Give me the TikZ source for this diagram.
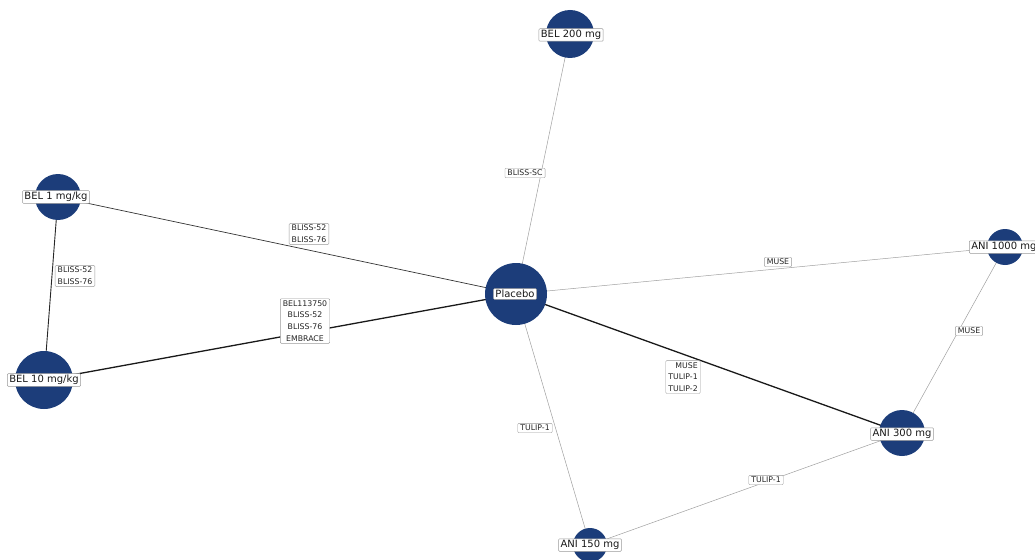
\documentclass[tikz,border=0pt]{standalone}
\usepackage{fontspec}
\setmainfont{DejaVu Sans}
\usetikzlibrary{backgrounds}
\definecolor{navy}{RGB}{28,61,122}
\tikzset{
  trt/.style={circle,fill=navy,draw=none,inner sep=0pt,minimum size=#1},
  nlab/.style={draw=gray!80,fill=white,rounded corners=1pt,inner xsep=2pt,inner ysep=1.5pt,line width=0.5pt,font=\fontsize{10}{12}\selectfont,text=black!90},
  elab/.style={draw=gray!80,fill=white,rounded corners=1pt,inner xsep=2.5pt,inner ysep=1.8pt,line width=0.4pt,font=\fontsize{7.8}{11.7}\selectfont,align=center,text=black!85},
  thinedge/.style={draw=gray!75,line width=0.5pt},
  midedge/.style={draw=black!80,line width=0.7pt},
  medge/.style={draw=black!85,line width=0.9pt},
  thickedge/.style={draw=black!90,line width=1.3pt}
}
\begin{document}
\begin{tikzpicture}[x=1pt,y=-1pt]
\useasboundingbox (0,0) rectangle (1035,559);
% treatment circles
\node[trt=62pt] (pl) at (516,294) {};
\node[trt=48pt] (b200) at (570,34) {};
\node[trt=46pt] (b1) at (58,197) {};
\node[trt=58pt] (b10) at (44,380) {};
\node[trt=36pt] (a1000) at (1005,247) {};
\node[trt=46pt] (a300) at (902,433) {};
\node[trt=34pt] (a150) at (590,545) {};
% edges
\begin{scope}[on background layer]
\draw[thinedge] (pl.center) -- (b200.center);
\draw[midedge] (pl.center) -- (b1.center);
\draw[thickedge] (pl.center) -- (b10.center);
\draw[thinedge] (pl.center) -- (a1000.center);
\draw[thickedge] (pl.center) -- (a300.center);
\draw[thinedge] (pl.center) -- (a150.center);
\draw[medge] (b1.center) -- (b10.center);
\draw[thinedge] (a1000.center) -- (a300.center);
\draw[thinedge] (a300.center) -- (a150.center);
\end{scope}
% edge labels
\node[elab] (e1) at (525,173) {BLISS-SC};
\node[elab] (e2) at (309,234) {BLISS-52\\BLISS-76};
\node[elab] (e3) at (305,321) {BEL113750\\BLISS-52\\BLISS-76\\EMBRACE};
\node[elab] (e4) at (778,262) {MUSE};
\node[elab,align=right] (e5) at (683,377) {MUSE\\TULIP-1\\TULIP-2};
\node[elab] (e6) at (535,428) {TULIP-1};
\node[elab] (e7) at (75,276) {BLISS-52\\BLISS-76};
\node[elab] (e8) at (969,331) {MUSE};
\node[elab] (e9) at (766,480) {TULIP-1};
% node labels
\node[nlab] (lpl) at (515,294) {Placebo};
\node[nlab] (lb200) at (571,35) {BEL 200 mg};
\node[nlab] (lb1) at (56,197) {BEL 1 mg/kg};
\node[nlab] (lb10) at (44,380) {BEL 10 mg/kg};
\node[nlab,anchor=west] (la1000) at (969,247) {ANI 1000 mg};
\node[nlab] (la300) at (902,434) {ANI 300 mg};
\node[nlab] (la150) at (590,545) {ANI 150 mg};
\end{tikzpicture}
\end{document}
